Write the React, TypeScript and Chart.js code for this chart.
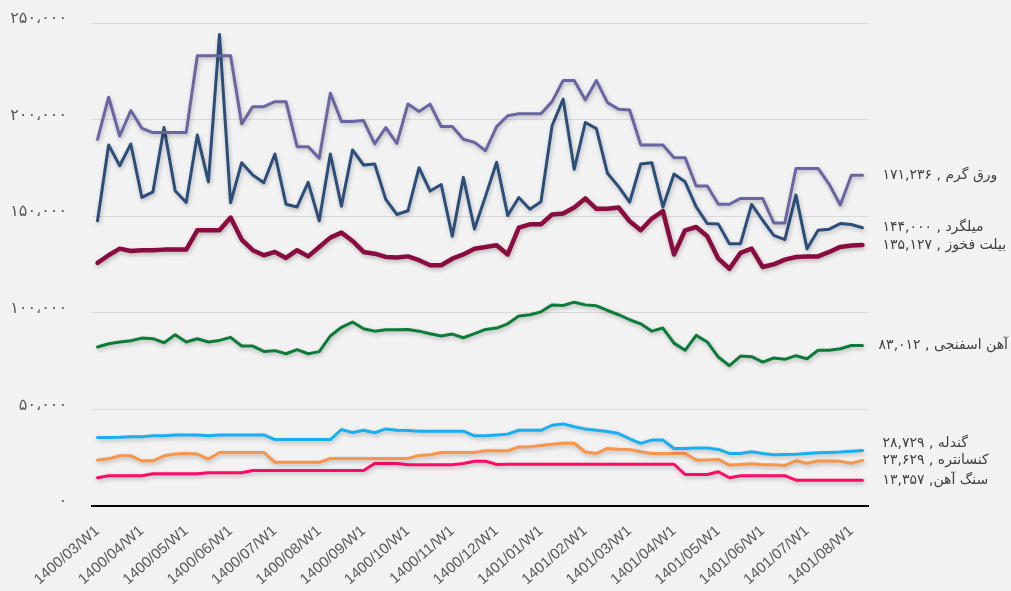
import React, { useEffect, useRef } from "react";
import { Chart, registerables } from "chart.js";

Chart.register(...registerables);

// ---- Data -------------------------------------------------------------
const months = [
  "1400/03", "1400/04", "1400/05", "1400/06", "1400/07", "1400/08", "1400/09",
  "1400/10", "1400/11", "1400/12", "1401/01", "1401/02", "1401/03", "1401/04",
  "1401/05", "1401/06", "1401/07", "1401/08",
];
const weeks = ["W1", "W2", "W3", "W4"];
const categories = months.flatMap((m) => weeks.map((w) => `${m}/${w}`)).slice(0, 70);

const seriesNames = ["ورق گرم", "میلگرد", "بیلت فخوز", "آهن اسفنجی", "گندله", "کنسانتره", "سنگ آهن"];
const nameSeparators = [" , ", " , ", " , ", " , ", " , ", " , ", ", "];

const hotRolled = [
  189800, 211600, 191500, 204700, 195500, 193300, 193300, 193300, 193300, 233000,
  233000, 233000, 233000, 197800, 206700, 206700, 209300, 209300, 186000, 186000,
  180000, 213700, 199000, 199000, 199500, 187400, 195900, 187700, 208100, 204200,
  208000, 196400, 196400, 189800, 188200, 183900, 196400, 202000, 203000, 203000,
  203000, 209300, 220200, 220200, 210200, 220200, 208800, 205400, 205000, 186900,
  186900, 186900, 180300, 180300, 165600, 165600, 156200, 156200, 159200, 159200,
  159200, 146500, 146500, 174700, 174700, 174700, 166500, 155800, 171236, 171236,
];
const rebar = [
  147600, 186900, 176100, 187400, 159700, 162600, 195900, 163200, 157100, 192000,
  167800, 244100, 156900, 177700, 171300, 167300, 182200, 156200, 154800, 167500,
  147600, 182200, 155200, 184300, 176500, 177000, 158700, 150900, 152800, 175100,
  163000, 166400, 139600, 170100, 143400, 160400, 177900, 150400, 159700, 153600,
  157500, 196800, 210600, 174300, 198500, 195300, 172200, 165300, 157300, 177000,
  177700, 154800, 171800, 167800, 154800, 146200, 145900, 135800, 135800, 156100,
  147900, 140100, 137900, 160900, 133200, 142700, 143300, 146200, 145700, 144000,
];
const billet = [
  125800, 129800, 133200, 132000, 132400, 132400, 132700, 132700, 132700, 142700,
  142700, 142700, 149300, 137900, 132400, 129800, 131500, 128400, 132400, 129200,
  134100, 138900, 141500, 137200, 131500, 130600, 128900, 128600, 129200, 127200,
  124600, 124600, 128000, 130200, 133200, 134100, 135000, 130200, 144100, 145800,
  145800, 150900, 151400, 154500, 159200, 153800, 153800, 154500, 147400, 142700,
  148800, 152600, 130200, 142700, 144400, 139600, 128000, 122800, 131000, 133200,
  123700, 125100, 127500, 128900, 129200, 129200, 131500, 134100, 134800, 135127,
];
const spongeIron = [
  82300, 84000, 84900, 85500, 86900, 86600, 84500, 88600, 84900, 86600,
  84900, 85700, 87300, 82800, 82800, 80000, 80400, 78800, 80900, 78800,
  79900, 88000, 92500, 95200, 91700, 90500, 91200, 91200, 91400, 90500,
  89200, 88000, 89000, 87100, 89200, 91400, 92100, 94300, 98300, 99000,
  100500, 104100, 103800, 105500, 104100, 103600, 101200, 99000, 96400, 94300,
  90500, 92100, 84300, 80600, 88300, 84900, 77100, 72600, 77600, 77300,
  74500, 76600, 75900, 77800, 76200, 80600, 80600, 81400, 83100, 83012,
];
const pellet = [
  35500, 35500, 35600, 35900, 35900, 36300, 36400, 36700, 36700, 36700,
  36300, 36700, 36800, 36800, 36800, 36800, 34400, 34400, 34400, 34400,
  34400, 34400, 39600, 38000, 39200, 37900, 39900, 39200, 39100, 38700,
  38700, 38700, 38700, 38700, 36300, 36300, 36700, 37200, 39200, 39200,
  39200, 41800, 42500, 41000, 39900, 39200, 38600, 37500, 34800, 32400,
  34100, 34100, 29800, 29800, 30000, 30000, 29300, 27200, 27200, 28100,
  27200, 26500, 26700, 26800, 27200, 27500, 27700, 27900, 28400, 28729,
];
const concentrate = [
  23800, 24400, 26000, 26000, 23400, 23400, 26000, 26900, 27200, 26900,
  24300, 27700, 27700, 27700, 27700, 27700, 22600, 22600, 22600, 22600,
  22600, 24600, 24600, 24600, 24600, 24600, 24600, 24600, 24600, 26200,
  26500, 27700, 27700, 27700, 27700, 28600, 28600, 28600, 30600, 30600,
  31300, 32000, 32500, 32500, 27900, 27200, 29800, 29400, 29300, 28100,
  27200, 27200, 27200, 27200, 23800, 23800, 24100, 21200, 21500, 21900,
  21400, 21400, 21000, 23400, 22100, 23300, 23300, 23100, 22100, 23629,
];
const ironOre = [
  14600, 15700, 15700, 15700, 15700, 16700, 16700, 16700, 16700, 16700,
  17200, 17200, 17200, 17200, 18400, 18400, 18400, 18400, 18400, 18400,
  18400, 18400, 18400, 18400, 18400, 22000, 22000, 22000, 21400, 21400,
  21400, 21400, 21400, 22000, 23200, 23200, 21500, 21600, 21600, 21600,
  21600, 21600, 21600, 21600, 21600, 21600, 21600, 21600, 21600, 21600,
  21600, 21600, 21600, 16300, 16300, 16300, 17700, 14600, 15700, 15700,
  15700, 15700, 15700, 13357, 13357, 13357, 13357, 13357, 13357, 13357,
];

const yTicks = [0, 50000, 100000, 150000, 200000, 250000];

// ---- Styles -----------------------------------------------------------
const seriesValues = [hotRolled, rebar, billet, spongeIron, pellet, concentrate, ironOre];
const seriesColors = ["#6B64A2", "#2A4E79", "#8A0B3F", "#0C7B38", "#19AFEF", "#F7954A", "#FF0A66"];
const seriesWidths = [3, 3, 4.5, 3, 3, 3, 3];

const faDigits = "۰۱۲۳۴۵۶۷۸۹";
const toFa = (n: number, sep: string) =>
  Math.round(n)
    .toLocaleString("en-US")
    .replace(/\d/g, (d) => faDigits[Number(d)])
    .replace(/,/g, sep);

const shadowPlugin = {
  id: "lineShadow",
  beforeDatasetDraw(chart: any) {
    const ctx = chart.ctx;
    ctx.save();
    ctx.shadowColor = "rgba(0,0,0,0.25)";
    ctx.shadowBlur = 4;
    ctx.shadowOffsetX = 1;
    ctx.shadowOffsetY = 2;
  },
  afterDatasetDraw(chart: any) {
    chart.ctx.restore();
  },
};

const endLabelPlugin = {
  id: "endLabels",
  afterDatasetsDraw(chart: any) {
    const ctx = chart.ctx;
    const items = chart.data.datasets.map((ds: any, i: number) => {
      const meta = chart.getDatasetMeta(i);
      const pt = meta.data[meta.data.length - 1];
      const v = ds.data[ds.data.length - 1];
      return { x: pt.x, y: pt.y, text: `${seriesNames[i]}${nameSeparators[i]}${toFa(v, ",")}` };
    });
    const sorted = [...items].sort((a: any, b: any) => b.y - a.y);
    for (let k = 1; k < sorted.length; k++) {
      if (sorted[k].y > sorted[k - 1].y - 16.5) sorted[k].y = sorted[k - 1].y - 16.5;
    }
    ctx.save();
    ctx.font = "14px 'DejaVu Sans', 'Noto Sans', sans-serif";
    ctx.fillStyle = "#404040";
    ctx.direction = "rtl";
    ctx.textAlign = "left";
    ctx.textBaseline = "middle";
    items.forEach((it: any) => {
      const w = ctx.measureText(it.text).width;
      const x = Math.min(it.x + 20, chart.width - 3 - w);
      ctx.fillText(it.text, x, it.y);
    });
    ctx.restore();
  },
};

export default function App() {
  const canvasRef = useRef<HTMLCanvasElement | null>(null);

  useEffect(() => {
    document.body.style.margin = "0";
    document.body.style.background = "#F2F2F2";
    const canvas = canvasRef.current;
    if (!canvas) return;
    const chart = new Chart(canvas, {
      type: "line",
      data: {
        labels: categories,
        datasets: seriesValues.map((vals, i) => ({
          label: seriesNames[i],
          data: vals,
          borderColor: seriesColors[i],
          backgroundColor: seriesColors[i],
          borderWidth: seriesWidths[i],
          pointRadius: 0,
          tension: 0,
          fill: false,
          borderJoinStyle: "round" as const,
          borderCapStyle: "round" as const,
        })),
      },
      options: {
        animation: false,
        responsive: false,
        maintainAspectRatio: false,
        layout: { padding: { left: 0, right: 143, top: 23, bottom: 0 } },
        plugins: { legend: { display: false }, tooltip: { enabled: false } },
        scales: {
          x: {
            offset: true,
            grid: { display: false, drawTicks: false },
            border: { display: true, color: "#000000", width: 2 },
            ticks: {
              autoSkip: false,
              minRotation: 41,
              maxRotation: 41,
              padding: 16,
              color: "#595959",
              font: { family: "'Liberation Sans', Arial, sans-serif", size: 15 },
              callback: (_v: any, i: number) => (i % 4 === 0 ? categories[i] : ""),
            },
            afterFit: (s: any) => {
              s.height = 85;
              s.paddingLeft = 0;
              s.paddingRight = 0;
            },
          },
          y: {
            min: yTicks[0],
            max: yTicks[yTicks.length - 1],
            afterBuildTicks: (s: any) => {
              s.ticks = yTicks.map((v) => ({ value: v }));
            },
            grid: { color: "#D9D9D9", lineWidth: 1, drawTicks: false },
            border: { display: false },
            ticks: {
              padding: 25,
              labelOffset: -4,
              color: "#595959",
              font: { family: "'DejaVu Sans', sans-serif", size: 16 },
              callback: (v: any) => toFa(Number(v), "،"),
            },
            afterFit: (s: any) => {
              s.width = 92;
              s.paddingTop = 0;
              s.paddingBottom = 0;
            },
          },
        },
      },
      plugins: [shadowPlugin, endLabelPlugin],
    });
    return () => chart.destroy();
  }, []);

  return (
    <div style={{ width: 1011, height: 591, background: "#F2F2F2" }}>
      <canvas ref={canvasRef} width={1011} height={591} style={{ display: "block" }} />
    </div>
  );
}
